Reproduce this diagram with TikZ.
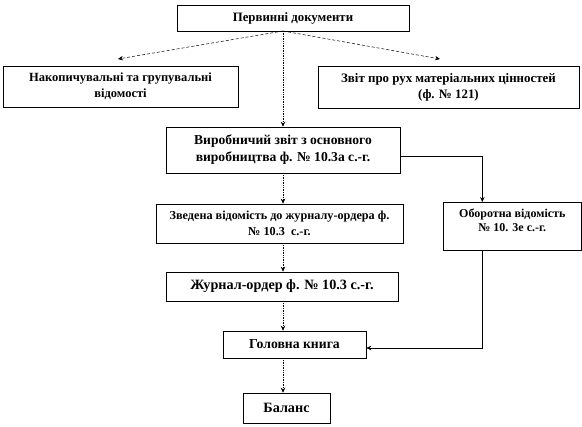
\documentclass[tikz,border=0pt]{standalone}
\usepackage{fontspec}
\setmainfont{Liberation Serif}
\usetikzlibrary{arrows.meta}
\newcommand{\fsz}[1]{\bfseries\fontsize{#1}{16}\selectfont}
\begin{document}
\begin{tikzpicture}[x=1pt,y=-1pt,
  box/.style={draw=black, line width=0.6pt, fill=white, inner sep=2pt, align=center},
  tip/.style={-{Stealth[length=5pt,width=4.5pt]}},
  dashline/.style={densely dashed, line width=0.5pt},
  dotline/.style={densely dotted, line width=0.7pt},
  solidline/.style={line width=0.6pt}]
\useasboundingbox (0,0) rectangle (582,427);
\node[box, minimum width=232pt, minimum height=26pt, font={\fsz{12.8}}] (top) at (293,18) {Первинні документи};
\node[box, minimum width=235pt, minimum height=41pt, font={\fsz{12.5}}] (left) at (120.5,86.5) {Накопичувальні та групувальні\\відомості};
\node[box, minimum width=261pt, minimum height=42pt, font={\fsz{12.9}}] (right) at (448.5,87) {Звіт про рух матеріальних цінностей\\(ф. № 121)};
\node[box, minimum width=234pt, minimum height=46pt, font={\bfseries\fontsize{13.6}{17}\selectfont}] (vyr) at (283,150) {Виробничий звіт з основного\\виробництва ф. № 10.3а с.-г.};
\node[box, minimum width=247pt, minimum height=39pt, font={\fsz{12.2}}] (zved) at (279.5,223.5) {Зведена відомість до журналу-ордера ф.\\№ 10.3~~с.-г.};
\node[box, minimum width=138pt, minimum height=48pt, anchor=north west, font={\bfseries\fontsize{12}{14}\selectfont}] (obor) at (443,202) {Оборотна відомість\\№ 10. 3е с.-г.\\[-2pt]};
\node[box, minimum width=232pt, minimum height=29pt, font={\fsz{14.2}}] (zhur) at (282,286.5) {Журнал-ордер ф. № 10.3 с.-г.};
\node[box, minimum width=143pt, minimum height=27pt, font={\fsz{13.7}}] (gol) at (294.5,344.5) {Головна книга};
\node[box, minimum width=87pt, minimum height=30pt, font={\fsz{14.2}}] (bal) at (286.5,408) {Баланс};
\coordinate (src) at (283,31);
\coordinate (la) at (118,59);
\coordinate (ra) at (440,59);
\draw[dashline, tip] (src) -- (la);
\draw[dashline, tip] (src) -- (ra);
\draw[dotline, tip] (src) -- (vyr.north -| src);
\draw[dotline, tip] (vyr.south -| src) -- (zved.north -| src);
\draw[dotline, tip] (zved.south -| src) -- (zhur.north -| src);
\draw[dotline, tip] (zhur.south -| src) -- (gol.north -| src);
\draw[dotline, tip] (gol.south -| src) -- (bal.north -| src);
\draw[solidline, tip] ([yshift=-6pt]vyr.east) -| ([xshift=-30pt]obor.north);
\draw[solidline, tip] ([xshift=-30pt]obor.south) |- ([yshift=-3.5pt]gol.east);
\end{tikzpicture}
\end{document}
